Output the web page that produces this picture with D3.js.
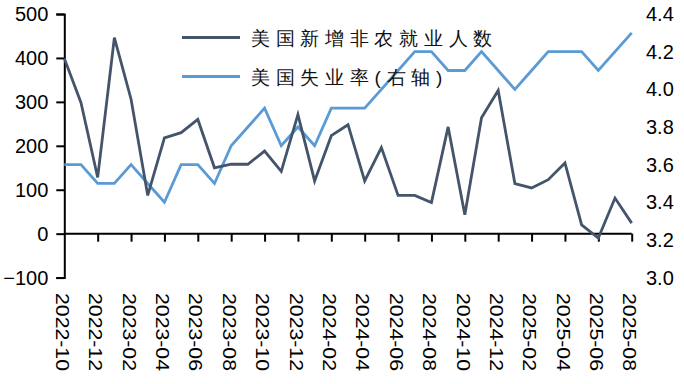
<!DOCTYPE html>
<html>
<head>
<meta charset="utf-8">
<script src="https://cdn.jsdelivr.net/npm/d3@7"></script>
<style>
  html, body { margin: 0; padding: 0; background: #fff; }
  svg { display: block; }
  text { font-family: "Liberation Sans", Arial, sans-serif; }
</style>
</head>
<body>
<svg id="chart" width="684" height="384"></svg>
<script>
const months = ["2022-10","2022-11","2022-12","2023-01","2023-02","2023-03","2023-04","2023-05","2023-06","2023-07","2023-08","2023-09","2023-10","2023-11","2023-12","2024-01","2024-02","2024-03","2024-04","2024-05","2024-06","2024-07","2024-08","2024-09","2024-10","2024-11","2024-12","2025-01","2025-02","2025-03","2025-04","2025-05","2025-06","2025-07","2025-08"];
const payrolls = [399, 298, 128, 446, 306, 87, 218, 230, 260, 150, 158, 158, 188, 142, 271, 120, 223, 248, 120, 196, 87, 87, 71, 243, 43, 264, 326, 114, 104, 123, 161, 20, -10, 81, 24];
const unemployment = [3.6, 3.6, 3.5, 3.5, 3.6, 3.5, 3.4, 3.6, 3.6, 3.5, 3.7, 3.8, 3.9, 3.7, 3.8, 3.7, 3.9, 3.9, 3.9, 4.0, 4.1, 4.2, 4.2, 4.1, 4.1, 4.2, 4.1, 4.0, 4.1, 4.2, 4.2, 4.2, 4.1, 4.2, 4.3];
const leftTicks = [-100, 0, 100, 200, 300, 400, 500];
const rightTicks = [3.0, 3.2, 3.4, 3.6, 3.8, 4.0, 4.2, 4.4];
const seriesNames = ["美国新增非农就业人数", "美国失业率(右轴)"];
const colors = ["#44546A", "#5B9BD5"];

const svg = d3.select("#chart");
const x = d3.scalePoint().domain(months).range([64.3, 631.7]);
const yL = d3.scaleLinear().domain([-100, 500]).range([277.6, 14]);
const yR = d3.scaleLinear().domain([3.0, 4.4]).range([277.6, 14]);

// Left axis
const gL = svg.append("g").attr("transform", `translate(${x(months[0])},0)`)
  .call(d3.axisLeft(yL).tickValues(leftTicks).tickSize(8).tickPadding(8).tickFormat(d3.format("d")));
gL.select(".domain").attr("stroke", "#000").attr("stroke-width", 2);
gL.selectAll(".tick line").attr("stroke", "#000").attr("stroke-width", 2);
gL.selectAll(".tick text").attr("font-size", 20).attr("fill", "#000")
  .attr("font-family", "Liberation Sans, Arial, sans-serif");

// Right axis (labels only)
const gR = svg.append("g").attr("transform", `translate(646,0)`)
  .call(d3.axisRight(yR).tickValues(rightTicks).tickSize(0).tickPadding(0).tickFormat(d3.format(".1f")));
gR.select(".domain").remove();
gR.selectAll(".tick text").attr("font-size", 20).attr("fill", "#000")
  .attr("font-family", "Liberation Sans, Arial, sans-serif");

// Bottom axis at zero
const tickMonths = months.filter((d, i) => i % 2 === 0);
const gB = svg.append("g").attr("transform", `translate(0,${yL(0)})`)
  .call(d3.axisBottom(x).tickValues(tickMonths.slice(1)).tickSize(8).tickFormat(""));
gB.select(".domain").attr("stroke", "#000").attr("stroke-width", 2)
  .attr("d", `M${x(months[0])},0H${x(months[months.length-1])}`);
gB.selectAll(".tick line").attr("stroke", "#000").attr("stroke-width", 2);

// Bottom rotated labels
svg.append("g").selectAll("text").data(tickMonths).join("text")
  .attr("transform", d => `translate(${x(d) - 2},293) rotate(90)`)
  .attr("dy", "0.35em")
  .attr("text-anchor", "start")
  .attr("font-size", 18)
  .attr("textLength", 78)
  .attr("lengthAdjust", "spacingAndGlyphs")
  .attr("fill", "#000")
  .text(d => d);

// Lines
const lineL = d3.line().x((d, i) => x(months[i])).y(d => yL(d));
const lineR = d3.line().x((d, i) => x(months[i])).y(d => yR(d));

svg.append("path").datum(unemployment)
  .attr("d", lineR).attr("fill", "none").attr("stroke", colors[1])
  .attr("stroke-width", 2.8).attr("stroke-linejoin", "miter");
svg.append("path").datum(payrolls)
  .attr("d", lineL).attr("fill", "none").attr("stroke", colors[0])
  .attr("stroke-width", 2.8).attr("stroke-linejoin", "miter");

// Legend
const legendY = [37.5, 76.5];
const lg = svg.append("g");
seriesNames.forEach((name, i) => {
  lg.append("line").attr("x1", 182).attr("x2", 240)
    .attr("y1", legendY[i]).attr("y2", legendY[i])
    .attr("stroke", colors[i]).attr("stroke-width", 2.8);
  lg.append("text").attr("x", 251).attr("y", legendY[i] + 7.2)
    .attr("font-family", "'Noto Sans CJK SC', sans-serif")
    .attr("font-size", 19)
    .attr("letter-spacing", 5.7)
    .attr("fill", "#111")
    .text(name);
});
</script>
</body>
</html>
